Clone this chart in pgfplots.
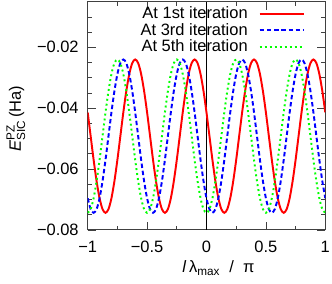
\documentclass[border=0pt]{standalone}
\usepackage{fontspec}
\setmainfont{Liberation Sans}
\usepackage{pgfplots}
\pgfplotsset{compat=1.18}
\usepackage{pgfplotstable}
\usetikzlibrary{calc}

\pgfplotstableread{
x red blue green
-1.000 -0.0414 -0.0696 -0.0744
-0.975 -0.0492 -0.0732 -0.0732
-0.950 -0.0570 -0.0744 -0.0696
-0.925 -0.0640 -0.0732 -0.0640
-0.900 -0.0696 -0.0696 -0.0570
-0.875 -0.0732 -0.0640 -0.0492
-0.850 -0.0744 -0.0570 -0.0414
-0.825 -0.0732 -0.0492 -0.0344
-0.800 -0.0696 -0.0414 -0.0288
-0.775 -0.0640 -0.0344 -0.0252
-0.750 -0.0570 -0.0288 -0.0240
-0.725 -0.0492 -0.0252 -0.0252
-0.700 -0.0414 -0.0240 -0.0288
-0.675 -0.0344 -0.0252 -0.0344
-0.650 -0.0288 -0.0288 -0.0414
-0.625 -0.0252 -0.0344 -0.0492
-0.600 -0.0240 -0.0414 -0.0570
-0.575 -0.0252 -0.0492 -0.0640
-0.550 -0.0288 -0.0570 -0.0696
-0.525 -0.0344 -0.0640 -0.0732
-0.500 -0.0414 -0.0696 -0.0744
-0.475 -0.0492 -0.0732 -0.0732
-0.450 -0.0570 -0.0744 -0.0696
-0.425 -0.0640 -0.0732 -0.0640
-0.400 -0.0696 -0.0696 -0.0570
-0.375 -0.0732 -0.0640 -0.0492
-0.350 -0.0744 -0.0570 -0.0414
-0.325 -0.0732 -0.0492 -0.0344
-0.300 -0.0696 -0.0414 -0.0288
-0.275 -0.0640 -0.0344 -0.0252
-0.250 -0.0570 -0.0288 -0.0240
-0.225 -0.0492 -0.0252 -0.0252
-0.200 -0.0414 -0.0240 -0.0288
-0.175 -0.0344 -0.0252 -0.0344
-0.150 -0.0288 -0.0288 -0.0414
-0.125 -0.0252 -0.0344 -0.0492
-0.100 -0.0240 -0.0414 -0.0570
-0.075 -0.0252 -0.0492 -0.0640
-0.050 -0.0288 -0.0570 -0.0696
-0.025 -0.0344 -0.0640 -0.0732
0.000 -0.0414 -0.0696 -0.0744
0.025 -0.0492 -0.0732 -0.0732
0.050 -0.0570 -0.0744 -0.0696
0.075 -0.0640 -0.0732 -0.0640
0.100 -0.0696 -0.0696 -0.0570
0.125 -0.0732 -0.0640 -0.0492
0.150 -0.0744 -0.0570 -0.0414
0.175 -0.0732 -0.0492 -0.0344
0.200 -0.0696 -0.0414 -0.0288
0.225 -0.0640 -0.0344 -0.0252
0.250 -0.0570 -0.0288 -0.0240
0.275 -0.0492 -0.0252 -0.0252
0.300 -0.0414 -0.0240 -0.0288
0.325 -0.0344 -0.0252 -0.0344
0.350 -0.0288 -0.0288 -0.0414
0.375 -0.0252 -0.0344 -0.0492
0.400 -0.0240 -0.0414 -0.0570
0.425 -0.0252 -0.0492 -0.0640
0.450 -0.0288 -0.0570 -0.0696
0.475 -0.0344 -0.0640 -0.0732
0.500 -0.0414 -0.0696 -0.0744
0.525 -0.0492 -0.0732 -0.0732
0.550 -0.0570 -0.0744 -0.0696
0.575 -0.0640 -0.0732 -0.0640
0.600 -0.0696 -0.0696 -0.0570
0.625 -0.0732 -0.0640 -0.0492
0.650 -0.0744 -0.0570 -0.0414
0.675 -0.0732 -0.0492 -0.0344
0.700 -0.0696 -0.0414 -0.0288
0.725 -0.0640 -0.0344 -0.0252
0.750 -0.0570 -0.0288 -0.0240
0.775 -0.0492 -0.0252 -0.0252
0.800 -0.0414 -0.0240 -0.0288
0.825 -0.0344 -0.0252 -0.0344
0.850 -0.0288 -0.0288 -0.0414
0.875 -0.0252 -0.0344 -0.0492
0.900 -0.0240 -0.0414 -0.0570
0.925 -0.0252 -0.0492 -0.0640
0.950 -0.0288 -0.0570 -0.0696
0.975 -0.0344 -0.0640 -0.0732
1.000 -0.0414 -0.0696 -0.0744
}\data

\begin{document}
\begin{tikzpicture}[font=\fontsize{11.9pt}{14pt}\selectfont]
\begin{axis}[
  name=ax,
  scale only axis, width=171.8pt, height=165pt,
  xmin=-1, xmax=1, ymin=-0.08, ymax=-0.005,
  xtick={-1,-0.5,0,0.5,1}, xticklabels={−1,−0.5,0,0.5,1},
  ytick={-0.08,-0.06,-0.04,-0.02}, yticklabels={−0.08,−0.06,−0.04,−0.02},
  minor xtick={-0.75,-0.25,0.25,0.75},
  minor ytick={-0.075,-0.07,-0.065,-0.055,-0.05,-0.045,-0.035,-0.03,-0.025,-0.015,-0.01,-0.005},
  tick align=inside, major tick length=5.8pt, minor tick length=2.9pt,
  axis line style={line width=0.6pt, black!75},
  every tick/.style={black!75, line width=0.5pt},
  xticklabel style={yshift=-4.5pt},
  yticklabel style={xshift=-3pt},
  xlabel={\textit{l}\,λ$_{\mbox{\fontsize{8.5pt}{10pt}\selectfont max}}$\ \ /\ \ π},
  xlabel style={at={(axis description cs:0.55,-0.1885)}, anchor=base},
  ylabel={\textit{E}$^{\mbox{\fontsize{8.5pt}{10pt}\selectfont PZ}}_{\mbox{\fontsize{8.5pt}{10pt}\selectfont SIC}}$\,(Ha)},
  ylabel style={at={(axis description cs:-0.2817,0.487)}, anchor=base},
  legend plot pos=right,
  legend cell align=right,
  legend image code/.code={\draw[#1] (0pt,0pt) -- (31.8pt,0pt);},
  legend style={draw=none, fill=none, at={(rel axis cs:1,1)}, anchor=north east,
    xshift=-14.7pt, yshift=-2.35pt, inner sep=0pt, row sep=0pt, column sep=8pt,
    nodes={inner sep=0pt, text height=9.65pt, text depth=2.45pt}},
]
\addplot[black, line width=0.5pt, forget plot] coordinates {(0,-0.08) (0,-0.005)};
\addplot[red, line width=1.4pt, smooth] table[x=x, y=red] {\data};
\addlegendentry{At 1st iteration}
\addplot[blue, line width=1.4pt, smooth, dash pattern=on 3.2pt off 2pt] table[x=x, y=blue] {\data};
\addlegendentry{At 3rd iteration}
\addplot[green, line width=1.4pt, smooth, dash pattern=on 1.4pt off 2.2pt] table[x=x, y=green] {\data};
\addlegendentry{At 5th iteration}
\end{axis}
\pgfresetboundingbox
\path ($(ax.south west)+(-63.4pt,-39pt)$) rectangle ($(ax.north east)+(4.85pt,1.2pt)$);
\end{tikzpicture}
\end{document}
